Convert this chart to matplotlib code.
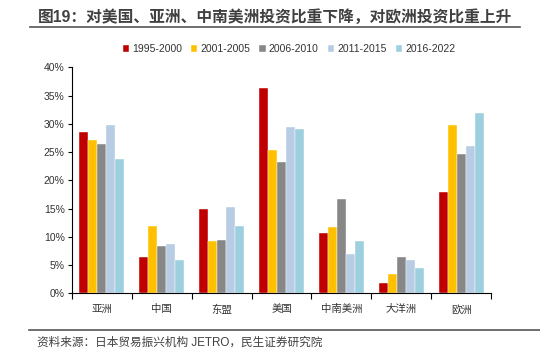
import matplotlib
matplotlib.use("Agg")
import matplotlib.pyplot as plt
import numpy as np
from matplotlib.lines import Line2D

plt.rcParams['font.family'] = ['Liberation Sans', 'Noto Sans CJK SC', 'DejaVu Sans']

categories = ['亚洲', '中国', '东盟', '美国', '中南美洲', '大洋洲', '欧洲']
series_names = ['1995-2000', '2001-2005', '2006-2010', '2011-2015', '2016-2022']
s1995 = [28.5, 6.5, 15.0, 36.4, 10.7, 1.8, 17.9]
s2001 = [27.1, 12.0, 9.3, 25.4, 11.8, 3.4, 29.7]
s2006 = [26.5, 8.4, 9.5, 23.2, 16.7, 6.4, 24.6]
s2011 = [29.8, 8.7, 15.2, 29.5, 7.0, 5.9, 26.1]
s2016 = [23.7, 5.9, 11.9, 29.1, 9.3, 4.4, 31.9]
colors = ['#C00000', '#FFC000', '#878787', '#B8CCE4', '#9DD0DF']

title = '图19：对美国、亚洲、中南美洲投资比重下降，对欧洲投资比重上升'
source = '资料来源：日本贸易振兴机构 JETRO，民生证券研究院'

fig = plt.figure(figsize=(5.4, 3.56), dpi=100)
ax = fig.add_axes([0.1328, 0.176, 0.777, 0.635])

data = [s1995, s2001, s2006, s2011, s2016]
x = np.arange(len(categories))
w = 0.15
for i, (vals, c, n) in enumerate(zip(data, colors, series_names)):
    ax.bar(x + (i - 2) * w, vals, width=w, color=c, label=n,
           edgecolor='white', linewidth=0.3)

ax.set_xlim(-0.5, len(categories) - 0.5)
ax.set_ylim(0, 40)
ax.set_yticks(np.arange(0, 41, 5))
ax.set_yticklabels([f'{v}%' for v in range(0, 41, 5)], fontsize=7.5, color='#333333')
ax.set_xticks(x)
ax.set_xticklabels(categories, fontsize=7.5, color='#333333')
ax.tick_params(axis='x', length=0, pad=8)
ax.set_xticks(np.arange(-0.5, len(categories), 1), minor=True)
ax.tick_params(axis='x', which='minor', length=4, width=0.8, direction='out', color='black')
ax.tick_params(axis='y', length=3, width=0.8, direction='out', color='black', pad=2)
for s in ['top', 'right']:
    ax.spines[s].set_visible(False)
ax.spines['left'].set_linewidth(0.8)
ax.spines['bottom'].set_linewidth(0.8)

leg = fig.legend(loc='center', bbox_to_anchor=(0.535, 0.862), ncol=5, frameon=False,
                 fontsize=7.5, handlelength=0.6, handleheight=0.6, handletextpad=0.3,
                 columnspacing=0.87)
for t in leg.get_texts():
    t.set_color('#333333')

fig.text(0.07, 0.952, title, fontsize=11.3, fontweight='bold', color='#404040',
         va='center', ha='left')
fig.add_artist(Line2D([0.055, 0.963], [0.924, 0.924], color='#555555', linewidth=1.2,
                      transform=fig.transFigure))
fig.add_artist(Line2D([0.054, 1.0], [0.073, 0.073], color='#555555', linewidth=1.2,
                      transform=fig.transFigure))
fig.text(0.068, 0.038, source, fontsize=8.4, color='#404040', va='center', ha='left')

fig.savefig('out.png', dpi=100)
